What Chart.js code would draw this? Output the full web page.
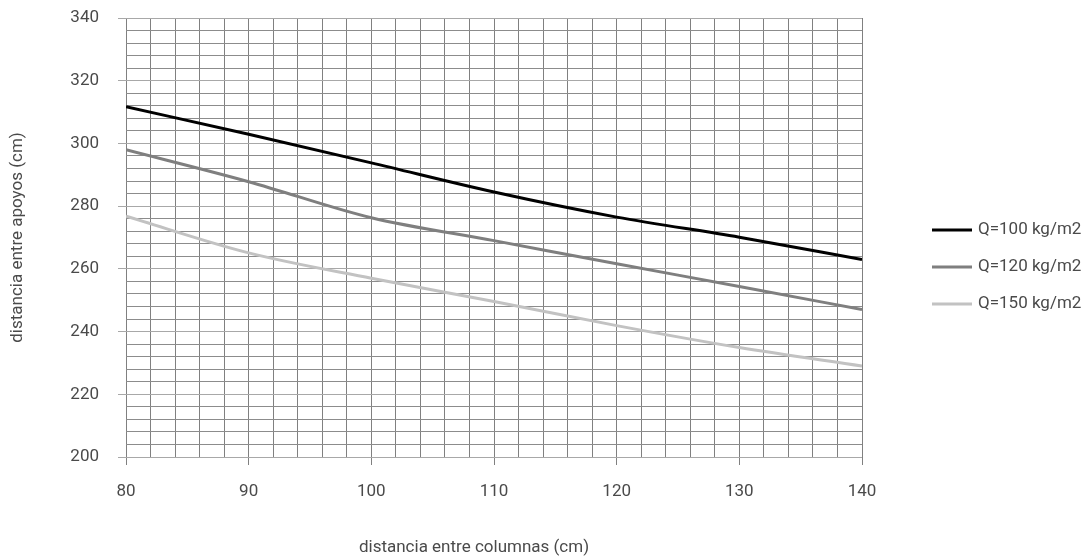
<!DOCTYPE html>
<html>
<head>
<meta charset="utf-8">
<script src="https://cdn.jsdelivr.net/npm/chart.js@4"></script>
<style>
  html, body { margin: 0; padding: 0; background: #fff; }
  #wrap { width: 1092px; height: 560px; }
</style>
</head>
<body>
<div id="wrap"><canvas id="chart"></canvas></div>
<script>
// distancia entre columnas (cm)
const columnas = [80, 90, 100, 110, 120, 130, 140];
// distancia entre apoyos (cm) for each load
const q100 = [311.7, 302.9, 293.8, 284.5, 276.5, 270.1, 263.0];
const q120 = [298.0, 287.8, 276.3, 269.0, 261.6, 254.4, 247.0];
const q150 = [276.8, 265.1, 257.0, 249.6, 241.9, 234.9, 229.0];
const seriesLabels = ["Q=100 kg/m2", "Q=120 kg/m2", "Q=150 kg/m2"];
const seriesColors = ["#000000", "#7f7f7f", "#c2c2c2"];
const xTitle = "distancia entre columnas (cm)";

const FONT = "Roboto, 'Liberation Sans', sans-serif";
const TEXT = "#4a4a4a";

function toPoints(values) {
    return values.map((v, i) => ({ x: columnas[i], y: v }));
}

// legend on the right (short lines + labels) and the x title,
// which sits a bit left of the plot centre in the original
const sideLegend = {
    id: "sideLegend",
    afterDraw(chart) {
        const ctx = chart.ctx;
        ctx.save();
        ctx.font = "17px " + FONT;
        ctx.textBaseline = "middle";
        chart.data.datasets.forEach((ds, i) => {
            const y = 230 + i * 37;
            ctx.strokeStyle = ds.borderColor;
            ctx.lineWidth = 3;
            ctx.beginPath();
            ctx.moveTo(932, y);
            ctx.lineTo(972, y);
            ctx.stroke();
            ctx.fillStyle = TEXT;
            ctx.fillText(ds.label, 978, y);
        });
        ctx.textAlign = "center";
        ctx.fillText(xTitle, 474, 548);
        ctx.restore();
    },
};

new Chart(document.getElementById("chart"), {
    type: "line",
    data: {
        datasets: [q100, q120, q150].map((vals, i) => ({
            label: seriesLabels[i],
            data: toPoints(vals),
            borderColor: seriesColors[i],
            borderWidth: 3,
            pointRadius: 0,
            fill: false,
            cubicInterpolationMode: "monotone",
        })),
    },
    options: {
        responsive: true,
        maintainAspectRatio: false,
        animation: false,
        layout: { padding: { top: 18, right: 230, left: 0, bottom: 0 } },
        plugins: {
            legend: { display: false },
            tooltip: { enabled: false },
        },
        scales: {
            x: {
                type: "linear",
                min: 80,
                max: 140,
                border: { display: false },
                afterFit: (scale) => { scale.height = 103; },
                grid: {
                    color: "#808080",
                    tickLength: 8,
                    tickColor: (c) => (c.tick && c.tick.value % 10 === 0 ? "#808080" : "rgba(0,0,0,0)"),
                },
                ticks: {
                    stepSize: 2,
                    autoSkip: false,
                    maxRotation: 0,
                    padding: 17,
                    color: TEXT,
                    font: { family: FONT, size: 17 },
                    callback: (v) => (v % 10 === 0 ? v : ""),
                },
            },
            y: {
                min: 200,
                max: 340,
                border: { display: false },
                afterFit: (scale) => {
                    scale.width = 126;
                    scale.paddingTop = 0;
                    scale.paddingBottom = 0;
                },
                grid: {
                    color: (c) => (c.tick && c.tick.value % 20 === 0 ? "#a8a8a8" : "#8c8c8c"),
                    tickLength: 8,
                    tickColor: (c) => (c.tick && c.tick.value % 20 === 0 ? "#a8a8a8" : "rgba(0,0,0,0)"),
                },
                ticks: {
                    stepSize: 4,
                    autoSkip: false,
                    padding: 19,
                    color: TEXT,
                    font: { family: FONT, size: 17 },
                    callback: (v) => (v % 20 === 0 ? v : ""),
                },
                title: {
                    display: true,
                    text: "distancia entre apoyos (cm)",
                    color: TEXT,
                    font: { family: FONT, size: 17 },
                    padding: { top: 8, bottom: 4 },
                },
            },
        },
    },
    plugins: [sideLegend],
});
</script>
</body>
</html>
